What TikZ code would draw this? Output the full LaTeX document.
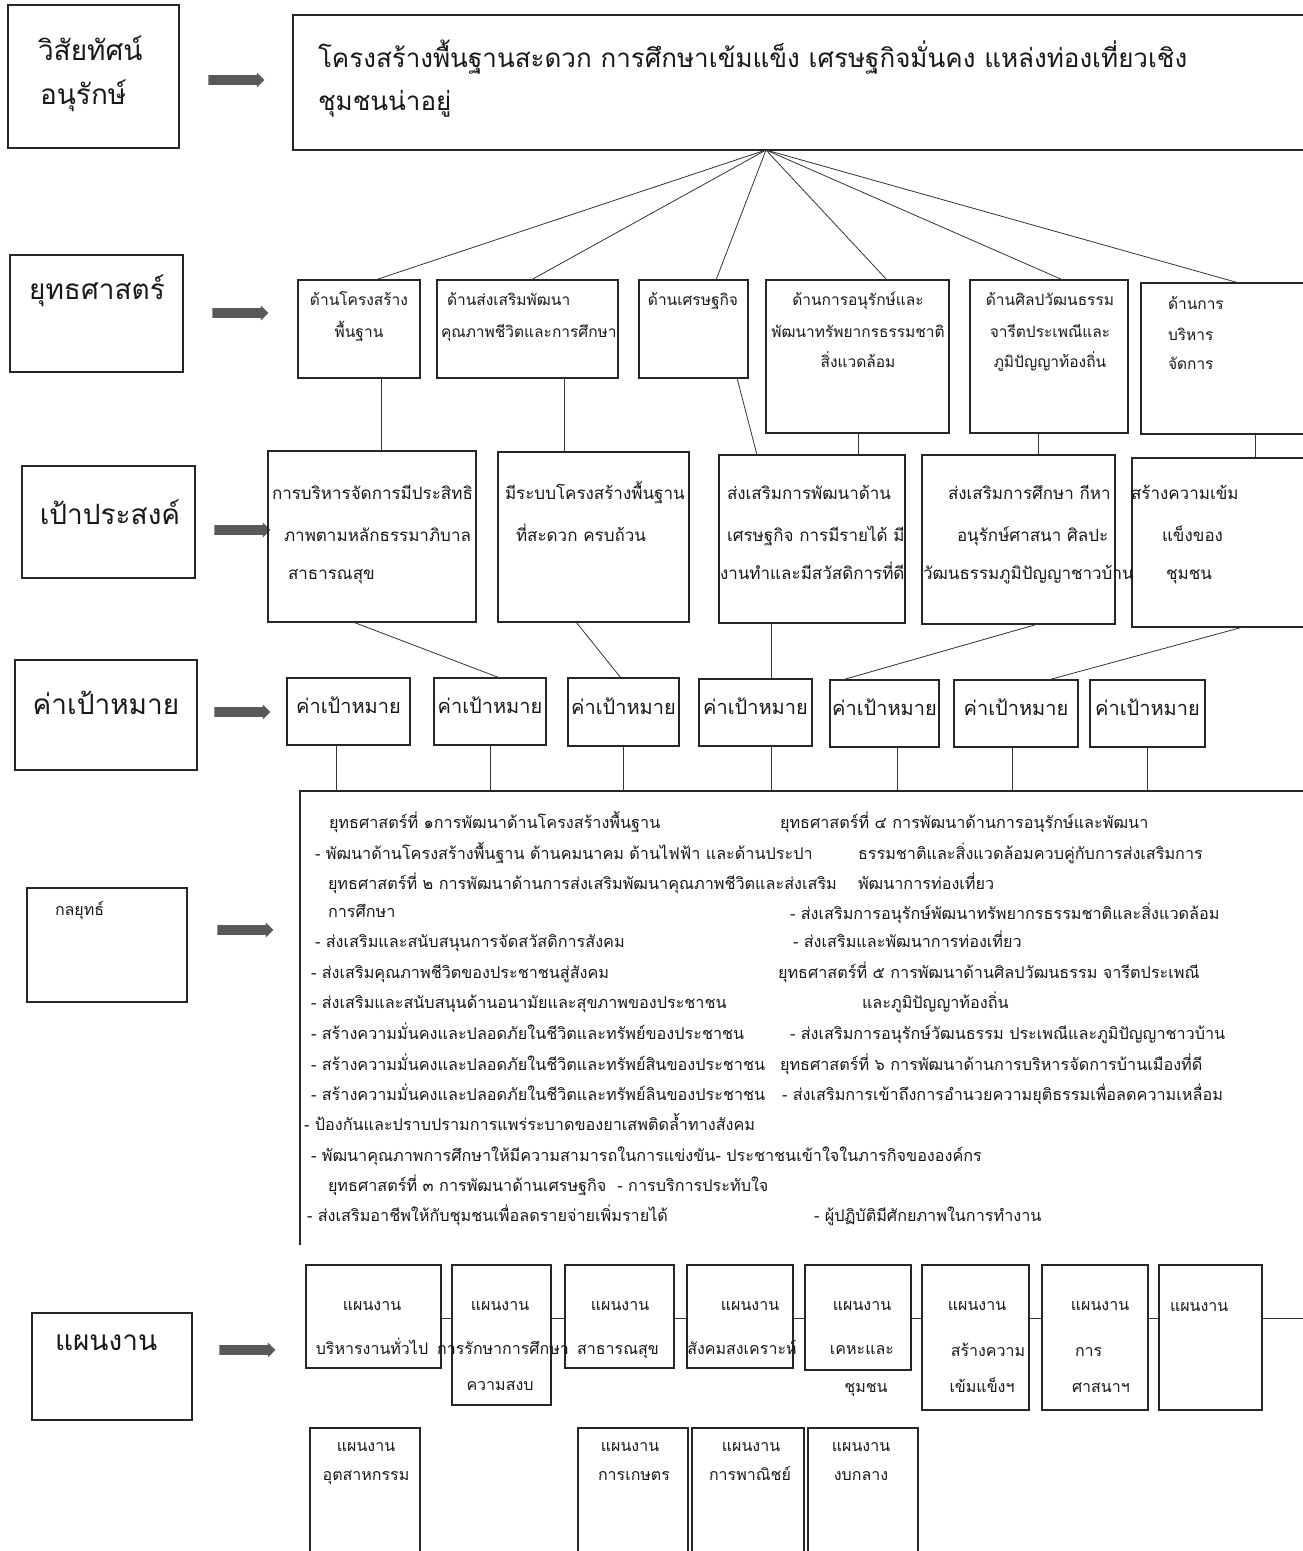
\documentclass[tikz,border=0pt]{standalone}
\usepackage{fontspec}
\setmainfont[Script=Thai]{Loma}
\usetikzlibrary{shapes.arrows,fit}
\begin{document}
\begin{tikzpicture}[x=1pt,y=-1pt,
  bx/.style={draw=black!85, line width=1.1pt, inner sep=0pt, outer sep=0pt, rectangle},
  hid/.style={inner sep=0pt, outer sep=0pt, rectangle},
  ln/.style={draw=black!80, line width=0.8pt},
  arr/.style={single arrow, fill=black!65, draw=none, minimum height=56pt, minimum width=15pt, single arrow head extend=2.5pt, inner xsep=0pt, inner ysep=4.5pt, text height=0pt, text depth=0pt},
  tx/.style={inner sep=0pt, outer sep=0pt, text height=0.45em, text depth=0pt, text=black!90},
  tL/.style={tx, font=\fontsize{28}{34}\selectfont},
  tV/.style={tx, font=\fontsize{26}{30}\selectfont},
  tS/.style={tx, font=\fontsize{15.5}{18}\selectfont},
  tG/.style={tx, font=\fontsize{17}{20}\selectfont},
  tT/.style={tx, font=\fontsize{20}{24}\selectfont},
  tB/.style={tx, font=\fontsize{16.2}{20}\selectfont},
  tP/.style={tx, font=\fontsize{16}{19}\selectfont},
]
\useasboundingbox[fill=white] (0,0) rectangle (1303,1551);

% ---------- left labels ----------
\node[bx, fit={(8,5)(179,148)}] (lv) {};
\node[tL, anchor=west] (lv1) at (38,58) {วิสัยทัศน์};
\node[tL, anchor=west] (lv2) at (40,102) {อนุรักษ์};
\node[bx, fit={(10,255)(183,372)}] (ls) {};
\node[tL, anchor=center] (ls1) at (97,297) {ยุทธศาสตร์};
\node[bx, fit={(22,466)(195,578)}] (lg) {};
\node[tL, anchor=center] (lg1) at (110,522) {เป้าประสงค์};
\node[bx, fit={(15,660)(197,770)}] (lt) {};
\node[tL, anchor=center] (lt1) at (106,712) {ค่าเป้าหมาย};
\node[bx, fit={(27,888)(187,1002)}] (lk) {};
\node[tP, anchor=west] (lk1) at (55,913) {กลยุทธ์};
\node[bx, fit={(32,1313)(192,1420)}] (lp) {};
\node[tL, anchor=west] (lp1) at (55,1348) {แผนงาน};

% ---------- arrows ----------
\node[arr] (a1) at (234,80) {};
\node[arr] (a2) at (238,313) {};
\node[arr] (a3) at (240,530) {};
\node[arr] (a4) at (240,712) {};
\node[arr] (a5) at (243,930) {};
\node[arr] (a6) at (245,1350) {};

% ---------- vision ----------
\node[bx, fit={(293,15)(1320,150)}] (vis) {};
\node[tV, anchor=west] (vis1) at (318,65) {โครงสร้างพื้นฐานสะดวก การศึกษาเข้มแข็ง เศรษฐกิจมั่นคง แหล่งท่องเที่ยวเชิง};
\node[tV, anchor=west] (vis2) at (318,108) {ชุมชนน่าอยู่};
\coordinate (apex) at (766,0 |- vis.south);

% ---------- strategies ----------
\node[bx, fit={(298,280)(420,378)}] (s1) {};
\node[bx, fit={(437,280)(618,378)}] (s2) {};
\node[bx, fit={(639,280)(748,378)}] (s3) {};
\node[bx, fit={(766,280)(949,433)}] (s4) {};
\node[bx, fit={(970,280)(1128,433)}] (s5) {};
\node[bx, fit={(1141,283)(1320,434)}] (s6) {};
\node[tS, anchor=center] (s1a) at (359,303) {ด้านโครงสร้าง};
\node[tS, anchor=center] (s1b) at (359,335) {พื้นฐาน};
\node[tS, anchor=west] (s2a) at (447,303) {ด้านส่งเสริมพัฒนา};
\node[tS, anchor=west] (s2b) at (441,335) {คุณภาพชีวิตและการศึกษา};
\node[tS, anchor=center] (s3a) at (693,303) {ด้านเศรษฐกิจ};
\node[tS, anchor=center] (s4a) at (858,303) {ด้านการอนุรักษ์และ};
\node[tS, anchor=center] (s4b) at (858,335) {พัฒนาทรัพยากรธรรมชาติ};
\node[tS, anchor=center] (s4c) at (858,365) {สิ่งแวดล้อม};
\node[tS, anchor=center] (s5a) at (1050,303) {ด้านศิลปวัฒนธรรม};
\node[tS, anchor=center] (s5b) at (1050,335) {จารีตประเพณีและ};
\node[tS, anchor=center] (s5c) at (1050,365) {ภูมิปัญญาท้องถิ่น};
\node[tS, anchor=west] (s6a) at (1168,307) {ด้านการ};
\node[tS, anchor=west] (s6b) at (1168,338) {บริหาร};
\node[tS, anchor=west] (s6c) at (1168,367) {จัดการ};

\draw[ln] (apex) -- (375,0 |- s1.north);
\draw[ln] (apex) -- (531,0 |- s2.north);
\draw[ln] (apex) -- (716,0 |- s3.north);
\draw[ln] (apex) -- (887,0 |- s4.north);
\draw[ln] (apex) -- (1063,0 |- s5.north);
\draw[ln] (apex) -- (1239,0 |- s6.north);

% ---------- goals ----------
\node[bx, fit={(268,451)(476,622)}] (g1) {};
\node[bx, fit={(498,452)(689,622)}] (g2) {};
\node[bx, fit={(719,455)(905,623)}] (g3) {};
\node[bx, fit={(922,455)(1115,624)}] (g4) {};
\node[bx, fit={(1132,458)(1320,627)}] (g5) {};
\node[tG, anchor=west] (g1a) at (272,497) {การบริหารจัดการมีประสิทธิ};
\node[tG, anchor=west] (g1b) at (284,539) {ภาพตามหลักธรรมาภิบาล};
\node[tG, anchor=west] (g1c) at (288,577) {สาธารณสุข};
\node[tG, anchor=west] (g2a) at (505,497) {มีระบบโครงสร้างพื้นฐาน};
\node[tG, anchor=west] (g2b) at (516,539) {ที่สะดวก ครบถ้วน};
\node[tG, anchor=west] (g3a) at (727,497) {ส่งเสริมการพัฒนาด้าน};
\node[tG, anchor=west] (g3b) at (727,539) {เศรษฐกิจ การมีรายได้ มี};
\node[tG, anchor=west] (g3c) at (720,577) {งานทำและมีสวัสดิการที่ดี};
\node[tG, anchor=west] (g4a) at (948,497) {ส่งเสริมการศึกษา กีหา};
\node[tG, anchor=west] (g4b) at (957,539) {อนุรักษ์ศาสนา ศิลปะ};
\node[tG, anchor=west] (g4c) at (923,577) {วัฒนธรรมภูมิปัญญาชาวบ้าน};
\node[tG, anchor=west] (g5a) at (1131,497) {สร้างความเข้ม};
\node[tG, anchor=west] (g5b) at (1162,539) {แข็งของ};
\node[tG, anchor=west] (g5c) at (1166,577) {ชุมชน};

\draw[ln] (381,0 |- s1.south) -- (381,0 |- g1.north);
\draw[ln] (564,0 |- s2.south) -- (564,0 |- g2.north);
\draw[ln] (737,0 |- s3.south) -- (757,0 |- g3.north);
\draw[ln] (858,0 |- s4.south) -- (858,0 |- g3.north);
\draw[ln] (1038,0 |- s5.south) -- (1038,0 |- g4.north);
\draw[ln] (1255,0 |- s6.south) -- (1255,0 |- g5.north);

% ---------- targets ----------
\node[bx, fit={(287,678)(410,745)}] (t1) {};
\node[bx, fit={(434,678)(546,745)}] (t2) {};
\node[bx, fit={(568,678)(679,746)}] (t3) {};
\node[bx, fit={(699,679)(812,746)}] (t4) {};
\node[bx, fit={(830,680)(939,747)}] (t5) {};
\node[bx, fit={(954,680)(1078,747)}] (t6) {};
\node[bx, fit={(1090,680)(1205,747)}] (t7) {};
\node[tT] (t1a) at (t1.center) {ค่าเป้าหมาย};
\node[tT] (t2a) at (t2.center) {ค่าเป้าหมาย};
\node[tT] (t3a) at (t3.center) {ค่าเป้าหมาย};
\node[tT] (t4a) at (t4.center) {ค่าเป้าหมาย};
\node[tT] (t5a) at (t5.center) {ค่าเป้าหมาย};
\node[tT] (t6a) at (t6.center) {ค่าเป้าหมาย};
\node[tT] (t7a) at (t7.center) {ค่าเป้าหมาย};

\draw[ln] (353,0 |- g1.south) -- (500,0 |- t2.north);
\draw[ln] (576,0 |- g2.south) -- (621,0 |- t3.north);
\draw[ln] (771,0 |- g3.south) -- (771,0 |- t4.north);
\draw[ln] (1038,0 |- g4.south) -- (842,0 |- t5.north);
\draw[ln] (1243,0 |- g5.south) -- (1048,0 |- t6.north);

% ---------- tactics (big box) ----------
\node[hid, fit={(300,791)(1320,1245)}] (big) {};
\draw[draw=black!85, line width=1.1pt] (big.south west) -- (big.north west) -- (big.north east);
\draw[ln] (336,0 |- t1.south) -- (336,0 |- big.north);
\draw[ln] (490,0 |- t2.south) -- (490,0 |- big.north);
\draw[ln] (623,0 |- t3.south) -- (623,0 |- big.north);
\draw[ln] (771,0 |- t4.south) -- (771,0 |- big.north);
\draw[ln] (897,0 |- t5.south) -- (897,0 |- big.north);
\draw[ln] (1012,0 |- t6.south) -- (1012,0 |- big.north);
\draw[ln] (1147,0 |- t7.south) -- (1147,0 |- big.north);

\node[tB, anchor=west] (k1) at (329,826) {ยุทธศาสตร์ที่ ๑การพัฒนาด้านโครงสร้างพื้นฐาน};
\node[tB, anchor=west] (k2) at (315,857) {- พัฒนาด้านโครงสร้างพื้นฐาน ด้านคมนาคม ด้านไฟฟ้า และด้านประปา};
\node[tB, anchor=west] (k3) at (328,887) {ยุทธศาสตร์ที่ ๒ การพัฒนาด้านการส่งเสริมพัฒนาคุณภาพชีวิตและส่งเสริม};
\node[tB, anchor=west] (k4) at (328,915) {การศึกษา};
\node[tB, anchor=west] (k5) at (315,945) {- ส่งเสริมและสนับสนุนการจัดสวัสดิการสังคม};
\node[tB, anchor=west] (k6) at (311,976) {- ส่งเสริมคุณภาพชีวิตของประชาชนสู่สังคม};
\node[tB, anchor=west] (k7) at (311,1006) {- ส่งเสริมและสนับสนุนด้านอนามัยและสุขภาพของประชาชน};
\node[tB, anchor=west] (k8) at (311,1037) {- สร้างความมั่นคงและปลอดภัยในชีวิตและทรัพย์ของประชาชน};
\node[tB, anchor=west] (k9) at (311,1068) {- สร้างความมั่นคงและปลอดภัยในชีวิตและทรัพย์สินของประชาชน};
\node[tB, anchor=west] (k10) at (311,1098) {- สร้างความมั่นคงและปลอดภัยในชีวิตและทรัพย์ลินของประชาชน};
\node[tB, anchor=west] (k11) at (304,1128) {- ป้องกันและปราบปรามการแพร่ระบาดของยาเสพติดล้ำทางสังคม};
\node[tB, anchor=west] (k12) at (311,1159) {- พัฒนาคุณภาพการศึกษาให้มีความสามารถในการแข่งขัน- ประชาชนเข้าใจในภารกิจขององค์กร};
\node[tB, anchor=west] (k13) at (328,1189) {ยุทธศาสตร์ที่ ๓ การพัฒนาด้านเศรษฐกิจ\ \ - การบริการประทับใจ};
\node[tB, anchor=west] (k14) at (307,1219) {- ส่งเสริมอาชีพให้กับชุมชนเพื่อลดรายจ่ายเพิ่มรายได้};
\node[tB, anchor=west] (k15) at (814,1219) {- ผู้ปฏิบัติมีศักยภาพในการทำงาน};

\node[tB, anchor=west] (r1) at (780,826) {ยุทธศาสตร์ที่ ๔ การพัฒนาด้านการอนุรักษ์และพัฒนา};
\node[tB, anchor=west] (r2) at (858,857) {ธรรมชาติและสิ่งแวดล้อมควบคู่กับการส่งเสริมการ};
\node[tB, anchor=west] (r3) at (858,887) {พัฒนาการท่องเที่ยว};
\node[tB, anchor=west] (r4) at (790,917) {- ส่งเสริมการอนุรักษ์พัฒนาทรัพยากรธรรมชาติและสิ่งแวดล้อม};
\node[tB, anchor=west] (r5) at (793,945) {- ส่งเสริมและพัฒนาการท่องเที่ยว};
\node[tB, anchor=west] (r6) at (778,976) {ยุทธศาสตร์ที่ ๕ การพัฒนาด้านศิลปวัฒนธรรม จารีตประเพณี};
\node[tB, anchor=west] (r7) at (862,1006) {และภูมิปัญญาท้องถิ่น};
\node[tB, anchor=west] (r8) at (790,1037) {- ส่งเสริมการอนุรักษ์วัฒนธรรม ประเพณีและภูมิปัญญาชาวบ้าน};
\node[tB, anchor=west] (r9) at (780,1068) {ยุทธศาสตร์ที่ ๖ การพัฒนาด้านการบริหารจัดการบ้านเมืองที่ดี};
\node[tB, anchor=west] (r10) at (782,1098) {- ส่งเสริมการเข้าถึงการอำนวยความยุติธรรมเพื่อลดความเหลื่อม};

% ---------- plans ----------
\node[bx, fit={(306,1265)(441,1368)}] (p1) {};
\node[bx, fit={(452,1265)(551,1405)}] (p2) {};
\node[bx, fit={(565,1265)(674,1368)}] (p3) {};
\node[bx, fit={(687,1265)(793,1368)}] (p4) {};
\node[bx, fit={(805,1265)(911,1370)}] (p5) {};
\node[bx, fit={(922,1265)(1029,1410)}] (p6) {};
\node[bx, fit={(1042,1265)(1148,1410)}] (p7) {};
\node[bx, fit={(1159,1265)(1262,1410)}] (p8) {};
\coordinate (pend) at (1303,1318);
\draw[ln] (p1.east |- 0,1318) -- (p2.west |- 0,1318);
\draw[ln] (p2.east |- 0,1318) -- (p3.west |- 0,1318);
\draw[ln] (p3.east |- 0,1318) -- (p4.west |- 0,1318);
\draw[ln] (p4.east |- 0,1318) -- (p5.west |- 0,1318);
\draw[ln] (p5.east |- 0,1318) -- (p6.west |- 0,1318);
\draw[ln] (p6.east |- 0,1318) -- (p7.west |- 0,1318);
\draw[ln] (p7.east |- 0,1318) -- (p8.west |- 0,1318);
\draw[ln] (p8.east |- 0,1318) -- (pend);

\node[tP] (p1a) at (372,1308) {แผนงาน};
\node[tP] (p1b) at (372,1352) {บริหารงานทั่วไป};
\node[tP] (p2a) at (500,1308) {แผนงาน};
\node[tP] (p2b) at (503,1352) {การรักษาการศึกษา};
\node[tP] (p2c) at (500,1388) {ความสงบ};
\node[tP] (p3a) at (620,1308) {แผนงาน};
\node[tP] (p3b) at (618,1352) {สาธารณสุข};
\node[tP] (p4a) at (750,1308) {แผนงาน};
\node[tP] (p4b) at (742,1352) {สังคมสงเคราะห์};
\node[tP] (p5a) at (862,1308) {แผนงาน};
\node[tP] (p5b) at (862,1352) {เคหะและ};
\node[tP] (p5c) at (866,1390) {ชุมชน};
\node[tP] (p6a) at (977,1308) {แผนงาน};
\node[tP] (p6b) at (988,1354) {สร้างความ};
\node[tP] (p6c) at (982,1390) {เข้มแข็งฯ};
\node[tP] (p7a) at (1100,1308) {แผนงาน};
\node[tP, anchor=west] (p7b) at (1075,1354) {การ};
\node[tP, anchor=west] (p7c) at (1072,1390) {ศาสนาฯ};
\node[tP, anchor=west] (p8a) at (1170,1309) {แผนงาน};

\node[bx, fit={(310,1428)(420,1565)}] (q1) {};
\node[bx, fit={(578,1428)(688,1565)}] (q2) {};
\node[bx, fit={(692,1428)(804,1565)}] (q3) {};
\node[bx, fit={(808,1428)(918,1565)}] (q4) {};
\node[tP] (q1a) at (366,1449) {แผนงาน};
\node[tP] (q1b) at (366,1478) {อุตสาหกรรม};
\node[tP] (q2a) at (630,1449) {แผนงาน};
\node[tP] (q2b) at (634,1478) {การเกษตร};
\node[tP] (q3a) at (751,1449) {แผนงาน};
\node[tP] (q3b) at (750,1478) {การพาณิชย์};
\node[tP] (q4a) at (861,1449) {แผนงาน};
\node[tP] (q4b) at (861,1478) {งบกลาง};
\end{tikzpicture}
\end{document}
